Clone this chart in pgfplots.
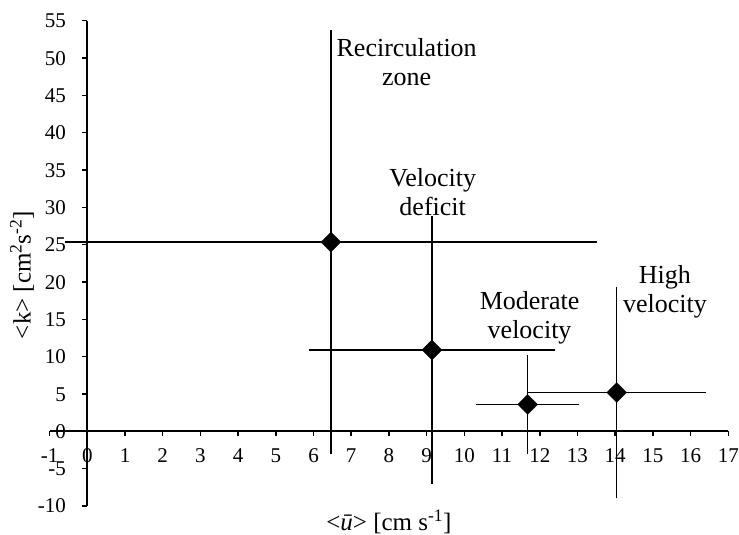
\documentclass[border=0pt]{standalone}
\usepackage{fontspec}
\setmainfont{Liberation Serif}
\usepackage{pgfplots}
\usepackage{pgfplotstable}
\pgfplotsset{compat=1.18}

% zone means: x, y, half-range in x and y
\pgfplotstableread{
x     y      ex    ey
6.46  25.35  6.97  27.9
9.14  10.9   3.18  17.5
11.68 3.6    1.28  6.1
14.04 5.2    2.27  13.7
}\zones

\begin{document}
\begin{tikzpicture}
\begin{axis}[
    scale only axis,
    width=678.7pt, height=485.3pt,
    xmin=-1, xmax=17, ymin=-10, ymax=55,
    axis lines=middle,
    axis line style={-, line width=1.8pt, black},
    xtick={-1,0,...,17},
    ytick={-10,-5,...,55},
    tick align=outside,
    major tick length=5pt,
    tick style={line width=1.5pt, black},
    hide obscured x ticks=false,
    hide obscured y ticks=false,
    /pgf/number format/assume math mode=true,
    xticklabel style={font=\fontsize{21}{24}\selectfont, text height=14pt, text depth=0pt},
    yticklabel style={font=\fontsize{21}{24}\selectfont, text height=14pt, text depth=0pt},
    xticklabel shift=9pt,
    yticklabel shift=13pt,
    clip=false,
    xlabel={\textless\textit{ū}\textgreater\ [cm s\textsuperscript{-1}]},
    ylabel={\textless k\textgreater\ [cm\textsuperscript{2}s\textsuperscript{-2}]},
    xlabel style={at={(rel axis cs:0.5,-0.033)}, anchor=center, font=\fontsize{25}{27}\selectfont},
    ylabel style={at={(rel axis cs:-0.0407,0.476)}, anchor=center, rotate=90, font=\fontsize{25}{27}\selectfont},
]
\addplot[only marks, mark=square*, mark options={rotate=45}, mark size=7pt, black,
    error bars/.cd, x dir=both, y dir=both, x explicit, y explicit,
    error bar style={line width=1.3pt, black},
    error mark options={line width=1.3pt, black, mark size=3.5pt}]
    table[x=x, y=y, x error=ex, y error=ey] {\zones};

\node[font=\fontsize{26}{29}\selectfont, align=center] at (axis cs:8.47,49.5) {Recirculation\\zone};
\node[font=\fontsize{26}{29}\selectfont, align=center] at (axis cs:9.16,32.05) {Velocity\\deficit};
\node[font=\fontsize{26}{29}\selectfont, align=center] at (axis cs:11.73,15.2) {Moderate\\velocity};
\node[font=\fontsize{26}{29}\selectfont, align=center] at (axis cs:15.32,18.65) {High\\velocity};
\end{axis}
\pgfresetboundingbox
\path[use as bounding box] (-49.6pt,-29pt) rectangle (689.4pt,506pt);
\end{tikzpicture}
\end{document}
